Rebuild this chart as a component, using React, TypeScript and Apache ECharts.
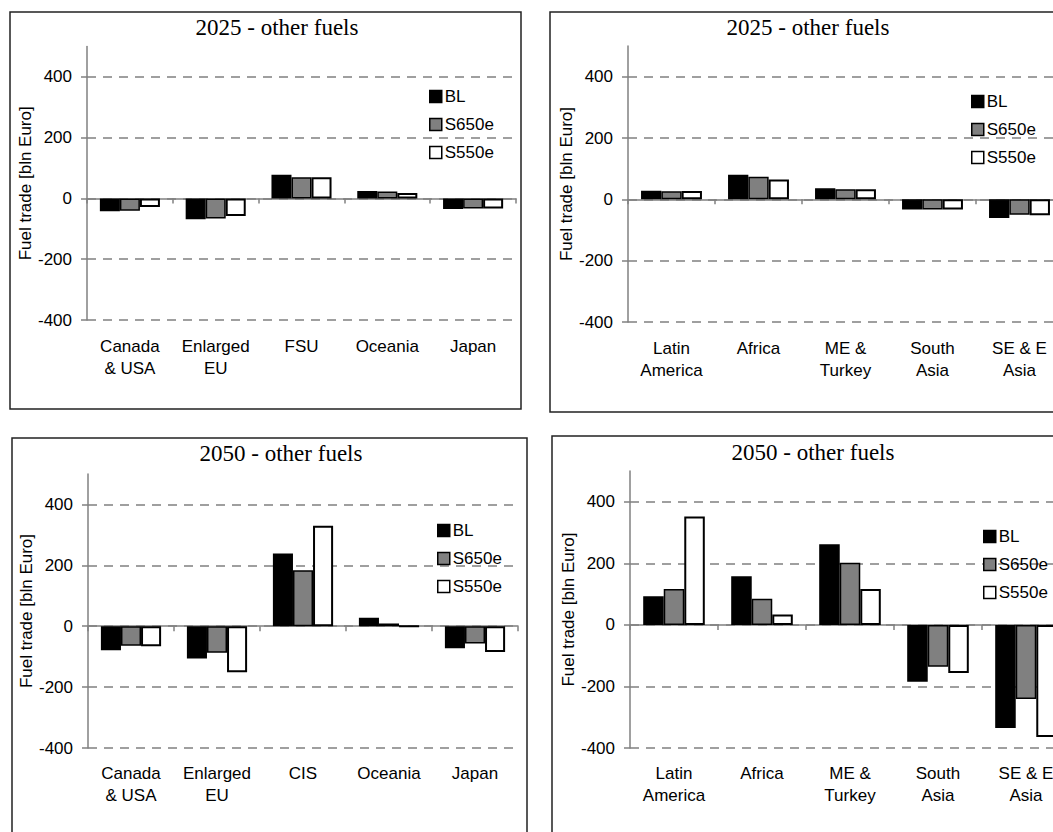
import React, { useEffect, useRef } from "react";
import * as echarts from "echarts";

// ---- data ----
const seriesNames = ["BL", "S650e", "S550e"];
const yTicks = [-400, -200, 0, 200, 400];

const title2025 = "2025 - other fuels";
const title2050 = "2050 - other fuels";
const yAxisName = "Fuel trade [bln Euro]";

const catsLeft2025 = ["Canada\n& USA", "Enlarged\nEU", "FSU", "Oceania", "Japan"];
const catsLeft2050 = ["Canada\n& USA", "Enlarged\nEU", "CIS", "Oceania", "Japan"];
const catsRight = ["Latin\nAmerica", "Africa", "ME &\nTurkey", "South\nAsia", "SE & E\nAsia"];

const p1BL = [-42, -68, 78, 25, -35];
const p1S650 = [-40, -66, 70, 23, -33];
const p1S550 = [-28, -58, 70, 18, -33];

const p2BL = [28, 80, 36, -33, -61];
const p2S650 = [26, 74, 33, -33, -50];
const p2S550 = [27, 65, 33, -33, -52];

const p3BL = [-79, -106, 239, 28, -72];
const p3S650 = [-64, -87, 184, 9, -57];
const p3S550 = [-66, -151, 330, 0, -85];

const p4BL = [93, 158, 262, -185, -335];
const p4S650 = [117, 85, 202, -136, -241];
const p4S550 = [352, 34, 117, -156, -364];

// ---- layout ----
const SANS = '"Liberation Sans", Arial, sans-serif';
const SERIF = '"Liberation Serif", "Times New Roman", serif';
const FS = 17;

const panels = [
  {
    title: title2025, cats: catsLeft2025, values: [p1BL, p1S650, p1S550],
    grid: { left: 87, top: 46.6, width: 429, height: 273.4 },
    titlePos: [277, 27], legendPos: [429, 88], box: [10, 12, 511, 397], labelMargin: 15,
  },
  {
    title: title2025, cats: catsRight, values: [p2BL, p2S650, p2S550],
    grid: { left: 628, top: 46, width: 435, height: 276 },
    titlePos: [808, 27], legendPos: [971, 93], box: [550, 12, 600, 400], labelMargin: 15,
  },
  {
    title: title2050, cats: catsLeft2050, values: [p3BL, p3S650, p3S550],
    grid: { left: 88, top: 474, width: 430, height: 274 },
    titlePos: [281, 453], legendPos: [437, 522], box: [12, 438, 515, 500], labelMargin: 14,
  },
  {
    title: title2050, cats: catsRight, values: [p4BL, p4S650, p4S550],
    grid: { left: 630, top: 471, width: 440, height: 277 },
    titlePos: [813, 452], legendPos: [983, 528], box: [552, 436, 600, 500], labelMargin: 14,
  },
];

const barStyles = [
  { color: "#000000", borderColor: "#000000", borderWidth: 1.5 },
  { color: "#808080", borderColor: "#000000", borderWidth: 1.5 },
  { color: "#ffffff", borderColor: "#000000", borderWidth: 2 },
];

function buildOption() {
  const grid: any[] = [];
  const xAxis: any[] = [];
  const yAxis: any[] = [];
  const series: any[] = [];
  const legend: any[] = [];
  const graphic: any[] = [];

  panels.forEach((p, i) => {
    grid.push({ ...p.grid, containLabel: false, outerBoundsMode: "none" });
    // label axis (at bottom)
    xAxis.push({
      gridIndex: i,
      type: "category",
      data: p.cats,
      position: "bottom",
      axisLine: { show: false, onZero: false },
      axisTick: { show: false },
      axisLabel: {
        interval: 0,
        margin: p.labelMargin,
        color: "#000",
        fontSize: FS,
        fontFamily: SANS,
        lineHeight: 22,
      },
      splitLine: { show: false },
    });
    // zero line axis
    xAxis.push({
      gridIndex: i,
      type: "category",
      data: p.cats,
      position: "top",
      axisLine: { show: true, onZero: true, lineStyle: { color: "#808080", width: 1.5 } },
      axisTick: { show: true, inside: true, length: 5, lineStyle: { color: "#808080", width: 1.5 } },
      axisLabel: { show: false },
      splitLine: { show: false },
    });
    yAxis.push({
      gridIndex: i,
      type: "value",
      min: -400,
      max: 500,
      interval: 200,
      name: yAxisName,
      nameLocation: "middle",
      nameRotate: 90,
      nameGap: 52,
      nameTextStyle: { color: "#000", fontSize: FS, fontFamily: SANS },
      axisLine: { show: true, lineStyle: { color: "#808080", width: 1.5 } },
      axisTick: { show: true, length: 6, customValues: yTicks, lineStyle: { color: "#808080", width: 1.5 } },
      axisLabel: { customValues: yTicks, margin: 15, color: "#000", fontSize: FS, fontFamily: SANS },
      splitLine: { show: true, lineStyle: { color: "#808080", width: 1.5, type: [9, 7] } },
    });
    seriesNames.forEach((name, k) => {
      series.push({
        type: "bar",
        name,
        xAxisIndex: i * 2,
        yAxisIndex: i,
        data: p.values[k],
        barGap: "0%",
        barCategoryGap: "30%",
        itemStyle: barStyles[k],
        emphasis: { disabled: true },
      });
    });
    legend.push({
      orient: "vertical",
      left: p.legendPos[0],
      top: p.legendPos[1],
      padding: 0,
      itemWidth: 12,
      itemHeight: 12,
      itemGap: 11,
      icon: "rect",
      selectedMode: false,
      data: seriesNames,
      textStyle: { color: "#000", fontSize: FS, fontFamily: SANS, padding: [0, 0, 0, -2] },
      itemStyle: { borderColor: "#000", borderWidth: 1.5 },
    });
    graphic.push({
      type: "rect",
      shape: { x: p.box[0], y: p.box[1], width: p.box[2], height: p.box[3] },
      style: { fill: "none", stroke: "#222", lineWidth: 1.5 },
      silent: true,
      z: 100,
    });
    graphic.push({
      type: "text",
      x: p.titlePos[0],
      y: p.titlePos[1],
      style: {
        text: p.title,
        fontSize: 23,
        fontFamily: SERIF,
        fill: "#000",
        align: "center",
        verticalAlign: "middle",
      },
      silent: true,
    });
  });

  return {
    animation: false,
    backgroundColor: "#ffffff",
    grid,
    xAxis,
    yAxis,
    series,
    legend,
    graphic,
  };
}

export default function App() {
  const ref = useRef<HTMLDivElement>(null);
  useEffect(() => {
    if (!ref.current) return;
    const chart = echarts.init(ref.current, undefined, { renderer: "svg" });
    chart.setOption(buildOption());
    return () => chart.dispose();
  }, []);
  return (
    <div style={{ position: "fixed", left: 0, top: 0, width: 1053, height: 832, overflow: "hidden", background: "#fff" }}>
      <div ref={ref} style={{ width: 1090, height: 860 }} />
    </div>
  );
}
